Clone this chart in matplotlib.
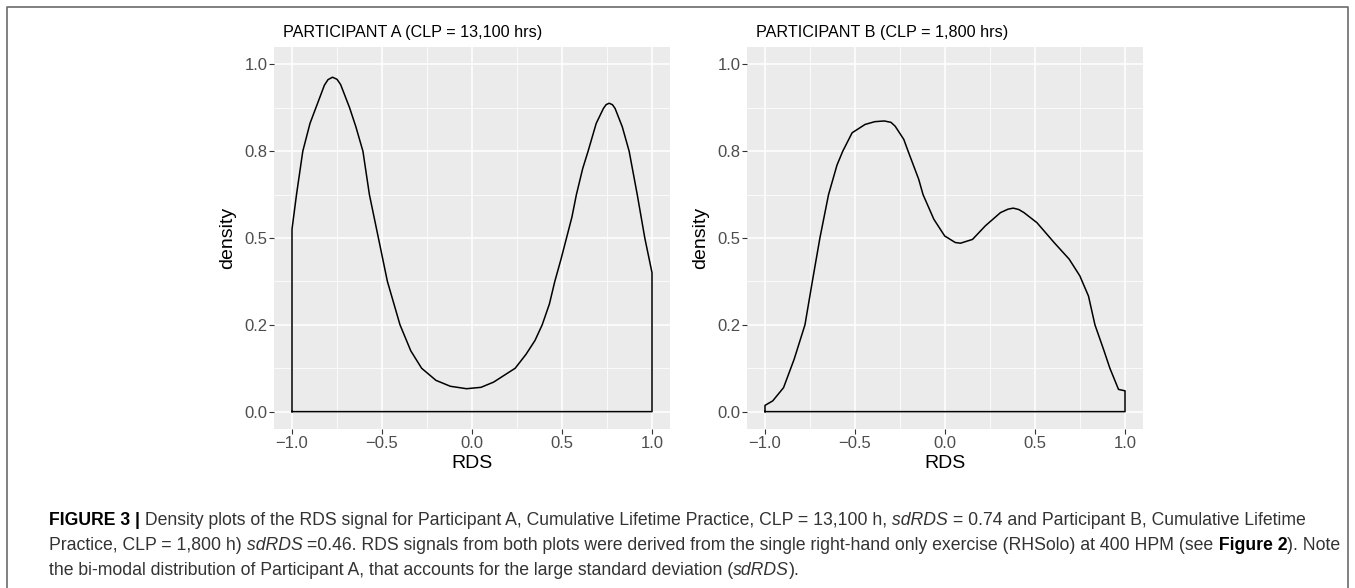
import matplotlib.pyplot as plt

# density outlines (RDS value, density)
rds_a = [-1.0, -0.975, -0.94, -0.90, -0.86, -0.82, -0.80, -0.775, -0.75, -0.73, -0.68, -0.645,
         -0.606, -0.57, -0.52, -0.47, -0.40, -0.34, -0.28, -0.20, -0.12, -0.03, 0.05, 0.12,
         0.18, 0.24, 0.30, 0.35, 0.39, 0.43, 0.46, 0.495, 0.525, 0.555, 0.58, 0.615, 0.645,
         0.69, 0.73, 0.745, 0.762, 0.78, 0.795, 0.835, 0.873, 0.918, 0.96, 1.0]
dens_a = [0.525, 0.625, 0.75, 0.83, 0.885, 0.94, 0.956, 0.963, 0.957, 0.942, 0.875, 0.82,
          0.75, 0.625, 0.50, 0.375, 0.25, 0.175, 0.125, 0.09, 0.073, 0.066, 0.07, 0.085,
          0.105, 0.125, 0.165, 0.205, 0.25, 0.31, 0.375, 0.44, 0.50, 0.56, 0.625, 0.70, 0.75,
          0.83, 0.873, 0.884, 0.888, 0.884, 0.873, 0.82, 0.75, 0.625, 0.50, 0.40]

rds_b = [-1.0, -0.957, -0.897, -0.838, -0.778, -0.737, -0.695, -0.647, -0.60, -0.568, -0.516,
         -0.444, -0.39, -0.337, -0.30, -0.277, -0.229, -0.205, -0.146, -0.122, -0.062, -0.002,
         0.057, 0.086, 0.153, 0.224, 0.308, 0.35, 0.379, 0.41, 0.439, 0.511, 0.606, 0.69,
         0.749, 0.797, 0.833, 0.881, 0.916, 0.964, 1.0]
dens_b = [0.018, 0.031, 0.069, 0.151, 0.25, 0.375, 0.5, 0.625, 0.71, 0.75, 0.803,
          0.827, 0.835, 0.837, 0.833, 0.822, 0.784, 0.75, 0.669, 0.625, 0.554, 0.506,
          0.487, 0.485, 0.496, 0.535, 0.573, 0.583, 0.586, 0.582, 0.573, 0.544, 0.487, 0.439,
          0.391, 0.333, 0.25, 0.179, 0.125, 0.064, 0.06]

titles = ['PARTICIPANT A (CLP = 13,100 hrs)', 'PARTICIPANT B (CLP = 1,800 hrs)']
x_ticks = [-1.0, -0.5, 0.0, 0.5, 1.0]
x_tick_labels = ['\u22121.0', '\u22120.5', '0.0', '0.5', '1.0']
x_minor = [-0.75, -0.25, 0.25, 0.75]
y_ticks = [0.0, 0.25, 0.5, 0.75, 1.0]
y_tick_labels = ['0.0', '0.2', '0.5', '0.8', '1.0']
y_minor = [0.125, 0.375, 0.625, 0.875]

# caption lines as (text, style) pieces
caption = [
    [('FIGURE 3 |', 'bold'),
     (' Density plots of the RDS signal for Participant A, Cumulative Lifetime Practice, CLP = 13,100 h,', 'reg'),
     (' sdRDS', 'ital'),
     (' = 0.74 and Participant B, Cumulative Lifetime', 'reg')],
    [('Practice, CLP = 1,800 h)', 'reg'),
     (' sdRDS', 'ital'),
     (' =0.46. RDS signals from both plots were derived from the single right-hand only exercise (RHSolo) at 400 HPM (see', 'reg'),
     (' Figure 2', 'bold'),
     ('). Note', 'reg')],
    [('the bi-modal distribution of Participant A, that accounts for the large standard deviation (', 'reg'),
     ('sdRDS', 'ital'),
     (').', 'reg')],
]

W, H = 1355, 588
plt.rcParams['font.family'] = ['Liberation Sans', 'DejaVu Sans']
fig = plt.figure(figsize=(W / 100, H / 100), dpi=100)

# overlay axes in pixel coordinates (y down) for frame, labels and caption
ov = fig.add_axes([0, 0, 1, 1])
ov.set_xlim(0, W)
ov.set_ylim(H, 0)
ov.axis('off')

# outer frame (top, left, right)
ov.plot([7, 7, 1348, 1348], [H, 7, 7, H], color='#6b6b6b', lw=1.2, clip_on=False)


def panel_box(x0, y0, x1, y1):
    return [x0 / W, 1 - y1 / H, (x1 - x0) / W, (y1 - y0) / H]


panels = [(274, 47, 670, 429), (747, 47, 1143, 429)]
curves = [(rds_a, dens_a), (rds_b, dens_b)]

for (x0, y0, x1, y1), (xs, ys), title in zip(panels, curves, titles):
    ax = fig.add_axes(panel_box(x0, y0, x1, y1))
    ax.set_facecolor('#EBEBEB')
    for s in ax.spines.values():
        s.set_visible(False)

    # closed outline like geom_density
    px = [xs[0]] + xs + [xs[-1], xs[0]]
    py = [0] + ys + [0, 0]
    ax.plot(px, py, color='black', lw=1.1, solid_joinstyle='round')

    ax.set_xlim(-1.1, 1.1)
    ax.set_ylim(-0.05, 1.05)
    ax.set_xticks(x_ticks, x_tick_labels)
    ax.set_yticks(y_ticks, y_tick_labels)
    ax.set_xticks(x_minor, minor=True)
    ax.set_yticks(y_minor, minor=True)
    ax.tick_params(which='minor', length=0)
    ax.tick_params(which='major', direction='out', length=3.3, width=0.8, color='#333333',
                   labelsize=12, labelcolor='#4D4D4D', pad=1.5)
    ax.grid(which='major', color='white', lw=1.1)
    ax.grid(which='minor', color='white', lw=0.55)
    ax.set_axisbelow(True)

    ov.text(x0 + 9, 37.5, title, fontsize=11.6, color='black', va='baseline', ha='left')
    ov.text((x0 + x1) / 2, 463, 'RDS', fontsize=14, color='black', va='center', ha='center')
    ov.text(x0 - 46, (y0 + y1) / 2, 'density', fontsize=14, color='black', rotation=90,
            va='center', ha='center')

styles = {
    'reg': dict(color='#333333'),
    'bold': dict(color='black', fontweight='bold'),
    'ital': dict(color='#333333', fontstyle='italic'),
}

for i, line in enumerate(caption):
    prev = None
    for text, st in line:
        if prev is None:
            prev = ov.text(49, 525 + 25 * i, text, fontsize=12.7, va='baseline', ha='left',
                           **styles[st])
        else:
            prev = ov.annotate(text, xy=(1, 0), xycoords=prev, va='bottom', ha='left',
                               fontsize=12.7, **styles[st])

fig.savefig('out.png', dpi=100)
